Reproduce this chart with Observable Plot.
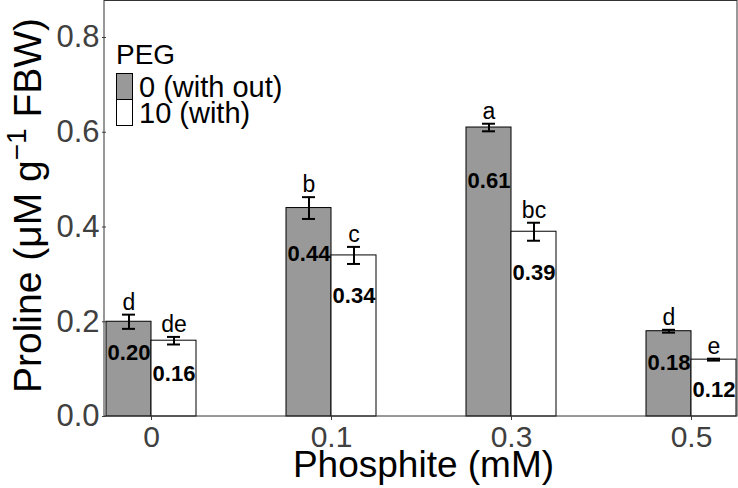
<!DOCTYPE html>
<html>
<head>
<meta charset="utf-8">
<script src="https://cdn.jsdelivr.net/npm/d3@7"></script>
<script src="https://cdn.jsdelivr.net/npm/@observablehq/plot@0.6"></script>
<style>
  body { margin: 0; background: #ffffff; }
  #chart svg { display: block; font-family: "Liberation Sans", Arial, sans-serif; }
</style>
</head>
<body>
<div id="chart"></div>
<script>
// Phosphite doses (mM) on the x axis
const doses = ["0", "0.1", "0.3", "0.5"];
// PEG treatment levels and their legend labels
const pegLevels = ["0", "10"];
const pegLabels = ["0 (with out)", "10 (with)"];
// Mean proline content (µM g-1 FBW) and standard errors per dose
const meanNoPEG = [0.20, 0.44, 0.61, 0.18];
const meanPEG = [0.16, 0.34, 0.39, 0.12];
const seNoPEG = [0.015, 0.023, 0.008, 0.003];
const sePEG = [0.008, 0.018, 0.019, 0.002];
// Significance letters
const letterNoPEG = ["d", "b", "a", "d"];
const letterPEG = ["de", "c", "bc", "e"];
// Heights (data units) at which the value labels sit inside the bars
const labelYNoPEG = [0.135, 0.343, 0.497, 0.114];
const labelYPEG = [0.09, 0.255, 0.303, 0.055];
const yTicks = [0, 0.2, 0.4, 0.6, 0.8];

const rows = doses.flatMap((dose, i) => [
  {dose, peg: pegLevels[0], mean: meanNoPEG[i], se: seNoPEG[i], letter: letterNoPEG[i], labelY: labelYNoPEG[i]},
  {dose, peg: pegLevels[1], mean: meanPEG[i], se: sePEG[i], letter: letterPEG[i], labelY: labelYPEG[i]}
]);

const font = "'Liberation Sans', Arial, sans-serif";

const plot = Plot.plot({
  width: 738,
  height: 488,
  marginTop: 1,
  marginRight: 1,
  marginBottom: 72,
  marginLeft: 104,
  style: {fontFamily: font, background: "white", overflow: "visible"},
  fx: {domain: doses, paddingInner: 0.5, paddingOuter: 0, label: null},
  x: {domain: pegLevels, padding: 0, axis: null},
  y: {domain: [0, 0.876], label: null},
  color: {domain: pegLevels, range: ["#999999", "#ffffff"]},
  marks: [
    Plot.barY(rows, {fx: "dose", x: "peg", y: "mean", fill: "peg", stroke: "black", strokeWidth: 1}),
    Plot.ruleX(rows, {fx: "dose", x: "peg", y1: d => d.mean - d.se, y2: d => d.mean + d.se, stroke: "black", strokeWidth: 2}),
    Plot.tickY(rows, {fx: "dose", x: "peg", y: d => d.mean + d.se, insetLeft: 16, insetRight: 16, stroke: "black", strokeWidth: 2}),
    Plot.tickY(rows, {fx: "dose", x: "peg", y: d => d.mean - d.se, insetLeft: 16, insetRight: 16, stroke: "black", strokeWidth: 2}),
    Plot.text(rows, {fx: "dose", x: "peg", y: d => d.mean + d.se, text: "letter", lineAnchor: "bottom", dy: -5, fontSize: 23, fill: "black"}),
    Plot.text(rows, {fx: "dose", x: "peg", y: "labelY", text: d => d.mean.toFixed(2), fontWeight: "bold", fontSize: 22, fill: "black"}),
    Plot.axisY({ticks: yTicks, tickFormat: d3.format(".1f"), tickSize: 4, tickPadding: 3, fontSize: 31, color: "#404040", label: null}),
    Plot.axisFx({anchor: "bottom", tickSize: 4, tickPadding: 5, fontSize: 30, color: "#404040", label: null})
  ]
});

// Panel border, axis titles and legend
const svg = d3.select(plot);
const [px0, px1] = plot.scale("fx").range;
const [py1, py0] = plot.scale("y").range;

svg.append("rect")
  .attr("x", px0).attr("y", py0 - 0.5)
  .attr("width", px1 - px0).attr("height", py1 - py0 + 0.5)
  .attr("fill", "none").attr("stroke", "#333333").attr("stroke-width", 1);

svg.append("text")
  .attr("x", (px0 + px1) / 2 + 3).attr("y", 477)
  .attr("text-anchor", "middle").attr("font-size", 37).attr("fill", "black")
  .text("Phosphite (mM)");

const yTitle = svg.append("text")
  .attr("transform", `translate(41,${(py0 + py1) / 2 - 3}) rotate(-90)`)
  .attr("text-anchor", "middle").attr("font-size", 39).attr("fill", "black");
yTitle.append("tspan").text("Proline (\u03bcM g");
yTitle.append("tspan").attr("font-size", 28).attr("dy", -15).text("\u22121");
yTitle.append("tspan").attr("dy", 15).text(" FBW)");

const color = plot.scale("color");
const legend = svg.append("g").attr("text-anchor", "start");
legend.append("text")
  .attr("x", 116).attr("y", 64).attr("font-size", 28).attr("fill", "black").text("PEG");
pegLevels.forEach((lv, i) => {
  legend.append("rect")
    .attr("x", 116.5).attr("y", 73.5 + i * 26)
    .attr("width", 16).attr("height", 26)
    .attr("fill", color.apply(lv)).attr("stroke", "black").attr("stroke-width", 1);
  legend.append("text")
    .attr("x", 139).attr("y", 97 + i * 26)
    .attr("font-size", 29).attr("fill", "black").text(pegLabels[i]);
});

document.getElementById("chart").append(plot);
</script>
</body>
</html>
